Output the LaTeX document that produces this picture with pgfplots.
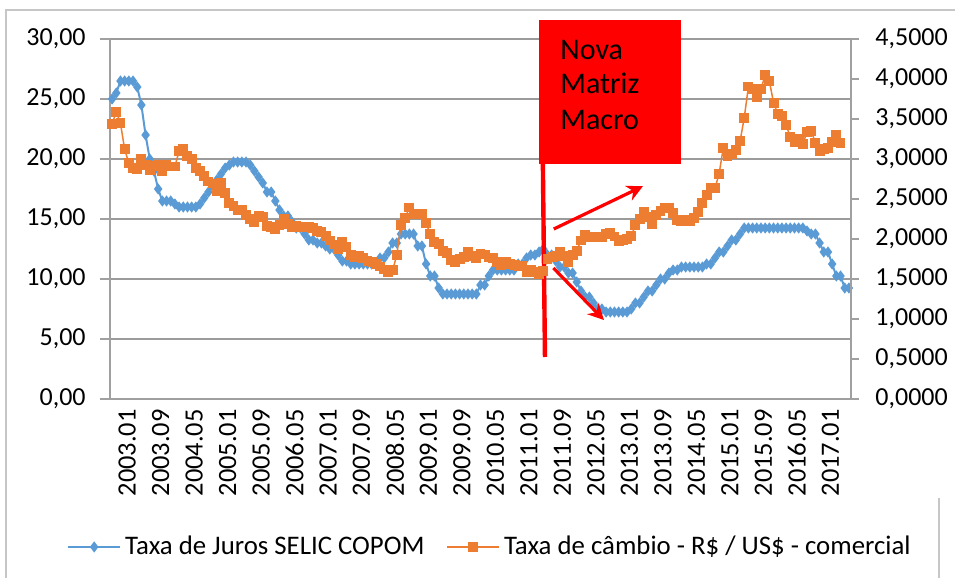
\documentclass[border=0pt]{standalone}
\usepackage{fontspec}
\setmainfont{Carlito}
\usepackage{pgfplots}
\usepackage{pgfplotstable}
\pgfplotsset{compat=1.18}
\usetikzlibrary{arrows.meta}
\definecolor{selic}{RGB}{91,155,213}
\definecolor{cambio}{RGB}{237,125,49}
\definecolor{gridc}{RGB}{155,155,155}
\definecolor{axc}{RGB}{160,160,160}

\pgfplotstableread{
v
25.00
25.50
26.50
26.50
26.50
26.50
26.00
24.50
22.00
20.00
19.00
17.50
16.50
16.50
16.50
16.25
16.00
16.00
16.00
16.00
16.00
16.25
16.75
17.25
17.75
18.25
18.75
19.25
19.50
19.75
19.75
19.75
19.75
19.50
19.00
18.50
18.00
17.25
17.25
16.50
15.75
15.25
15.25
14.75
14.25
14.25
13.75
13.25
13.25
13.00
13.00
12.75
12.50
12.50
12.00
11.50
11.50
11.25
11.25
11.25
11.25
11.25
11.25
11.25
11.75
11.75
12.25
13.00
13.00
13.75
13.75
13.75
13.75
12.75
12.75
11.25
10.25
10.25
9.25
8.75
8.75
8.75
8.75
8.75
8.75
8.75
8.75
8.75
9.50
9.50
10.25
10.75
10.75
10.75
10.75
10.75
10.75
11.25
11.25
11.75
12.00
12.00
12.25
12.50
12.00
12.00
11.50
11.00
11.00
10.50
10.50
9.75
9.00
8.50
8.50
8.00
7.50
7.50
7.25
7.25
7.25
7.25
7.25
7.25
7.50
8.00
8.00
8.50
9.00
9.00
9.50
10.00
10.00
10.50
10.75
10.75
11.00
11.00
11.00
11.00
11.00
11.00
11.25
11.25
11.75
12.25
12.25
12.75
13.25
13.25
13.75
14.25
14.25
14.25
14.25
14.25
14.25
14.25
14.25
14.25
14.25
14.25
14.25
14.25
14.25
14.25
14.00
13.75
13.75
13.00
12.25
12.25
11.25
10.25
10.25
9.25
9.25
}\selictab

\pgfplotstableread{
v
3.4384
3.5908
3.4469
3.1195
2.9500
2.8830
2.8800
3.0025
2.9236
2.8567
2.9118
2.9253
2.8509
2.9285
2.9057
2.9060
3.1000
3.1301
3.0378
3.0012
2.8916
2.8545
2.7862
2.7184
2.6932
2.5951
2.7053
2.5773
2.4516
2.4115
2.3664
2.3607
2.2947
2.2550
2.2094
2.2842
2.2735
2.1611
2.1517
2.1282
2.1775
2.2476
2.1866
2.1553
2.1680
2.1482
2.1567
2.1469
2.1379
2.0953
2.0886
2.0324
1.9817
1.9317
1.8778
1.9663
1.8966
1.8002
1.7739
1.7842
1.7671
1.7280
1.7076
1.6883
1.6564
1.6190
1.5917
1.6087
1.7984
2.1738
2.2623
2.3940
2.3083
2.3127
2.3146
2.2048
2.0580
1.9589
1.9334
1.8457
1.8220
1.7404
1.7162
1.7514
1.7790
1.8412
1.7858
1.7582
1.8120
1.8064
1.7687
1.7596
1.7173
1.6800
1.7098
1.6925
1.6727
1.6673
1.6589
1.5855
1.6133
1.5891
1.5633
1.5962
1.7495
1.7708
1.7900
1.8369
1.7877
1.7180
1.7953
1.8548
1.9812
2.0494
2.0285
2.0293
2.0281
2.0297
2.0676
2.0770
2.0314
1.9733
1.9827
2.0022
2.0346
2.1730
2.2490
2.3417
2.2700
2.1876
2.2966
2.3452
2.3826
2.3837
2.3254
2.2322
2.2209
2.2352
2.2240
2.2665
2.3323
2.4483
2.5487
2.6372
2.6343
2.8157
3.1400
3.0431
3.0596
3.1105
3.2217
3.5155
3.9057
3.8799
3.7769
3.8718
4.0538
3.9727
3.7048
3.5651
3.5398
3.4228
3.2783
3.2112
3.2553
3.1847
3.3402
3.3523
3.1966
3.1042
3.1270
3.1378
3.2098
3.2948
3.2010
}\cambiotab

\begin{document}
\begin{tikzpicture}
\begin{axis}[
  at={(0,0)}, anchor=south west,
  width=370.5pt, height=180pt, scale only axis,
  xmin=-0.5, xmax=176.5, ymin=0, ymax=30,
  axis x line*=bottom, axis y line*=left,
  axis line style={draw=axc, line width=0.7pt, -},
  xtick={0,8,...,168},
  xticklabels={2003.01,2003.09,2004.05,2005.01,2005.09,2006.05,2007.01,2007.09,2008.05,2009.01,2009.09,2010.05,2011.01,2011.09,2012.05,2013.01,2013.09,2014.05,2015.01,2015.09,2016.05,2017.01},
  xtick style={draw=none},
  xticklabel style={rotate=90, anchor=east, font=\fontsize{13.2}{15}\selectfont, inner sep=0pt, yshift=-7.5pt},
  ytick={0,5,...,30},
  yticklabels={{0,00},{5,00},{10,00},{15,00},{20,00},{25,00},{30,00}},
  yticklabel style={font=\fontsize{13}{15}\selectfont, inner sep=0pt, xshift=-7pt},
  tick align=outside,
  major tick length=5pt,
  ytick style={draw=axc, line width=0.7pt},
  ymajorgrids,
  grid style={draw=gridc, line width=0.7pt},
]
\addplot[selic, line width=1pt, mark=diamond*, mark size=2pt, mark options={fill=selic, draw=selic, solid}] table[x expr=\coordindex, y=v] {\selictab};
\end{axis}
\begin{axis}[
  at={(0,0)}, anchor=south west,
  width=370.5pt, height=180pt, scale only axis,
  xmin=-0.5, xmax=176.5, ymin=0, ymax=4.5,
  axis x line*=bottom, axis y line*=right,
  axis line style={draw=axc, line width=0.7pt, -},
  xtick=\empty,
  minor xtick={-0.5,0.5,...,176.5},
  minor tick length=2.5pt,
  tick align=outside,
  major tick length=4pt,
  tick style={draw=axc, line width=0.7pt},
  ytick={0,0.5,...,4.5},
  yticklabels={{0,0000},{0,5000},{1,0000},{1,5000},{2,0000},{2,5000},{3,0000},{3,5000},{4,0000},{4,5000}},
  yticklabel style={font=\fontsize{13}{15}\selectfont, inner sep=0pt, xshift=8pt, anchor=west},
  clip=false,
  legend style={at={(0.514,-0.411)}, anchor=center, draw=none, fill=none, legend columns=2,
    font=\fontsize{13.4}{15}\selectfont, /tikz/every even column/.append style={column sep=9pt}},
  legend image code/.code={\draw[mark repeat=2,mark phase=2] plot coordinates {(0pt,0pt) (13pt,0pt) (26pt,0pt)};},
]
\addlegendimage{selic, line width=1pt, mark=diamond*, mark size=2pt, mark options={fill=selic, draw=selic, solid}}
\addlegendentry{Taxa de Juros SELIC COPOM}
\addplot[cambio, line width=0.75pt, mark=square*, mark size=2.1pt, mark options={fill=cambio, draw=cambio, solid}] table[x expr=\coordindex, y=v] {\cambiotab};
\addlegendentry{Taxa de câmbio - R\$ / US\$ - comercial}
% annotation
\fill[red] (axis cs:102.0,2.94) rectangle (axis cs:135.9,4.74);
\node[anchor=base west, inner sep=0pt, font=\fontsize{15}{18}\selectfont] at (axis cs:107.0,4.246) {Nova};
\node[anchor=base west, inner sep=0pt, font=\fontsize{15}{18}\selectfont] at (axis cs:107.0,3.813) {Matriz};
\node[anchor=base west, inner sep=0pt, font=\fontsize{15}{18}\selectfont] at (axis cs:107.0,3.363) {Macro};
\draw[red, line width=2.2pt] (axis cs:102.9,2.94) -- (axis cs:103.4,0.525);
\draw[red, line width=1.6pt, -{Stealth[length=8pt,width=8pt]}] (axis cs:105.5,2.125) -- (axis cs:126.8,2.66);
\draw[red, line width=1.6pt, -{Stealth[length=8pt,width=8pt]}] (axis cs:105.4,1.638) -- (axis cs:117.5,0.987);
\end{axis}
\draw[gray!45, line width=0.6pt] (-52pt,-89.5pt) -- (-52pt,194.5pt) -- (422.5pt,194.5pt);
\draw[gray!45, line width=0.6pt] (414.5pt,-49.5pt) -- (414.5pt,-89.5pt);
\pgfresetboundingbox
\useasboundingbox (-55pt,-89.5pt) rectangle (422.5pt,199.5pt);
\end{tikzpicture}
\end{document}
